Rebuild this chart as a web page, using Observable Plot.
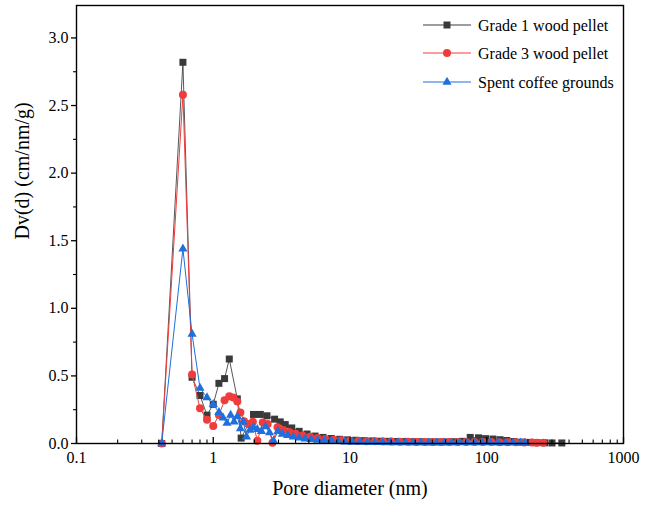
<!DOCTYPE html>
<html><head><meta charset="utf-8">
<script src="https://cdn.jsdelivr.net/npm/d3@7"></script>
<script src="https://cdn.jsdelivr.net/npm/@observablehq/plot@0.6"></script>
<style>
body{margin:0;background:#fff;}
#wrap{position:relative;width:655px;height:510px;font-family:'Liberation Serif',serif;}
#wrap svg, #wrap svg text{font-family:'Liberation Serif',serif !important;}
#legend{position:absolute;left:0;top:0;pointer-events:none;}
</style>
</head><body><div id="wrap"></div>
<script>
// ---- data ----
const seriesNames = ["Grade 1 wood pellet", "Grade 3 wood pellet", "Spent coffee grounds"];
const seriesColors = ["#3a3a3a", "#f03c3c", "#1f6fdc"];
const seriesSymbols = ["square", "circle", "triangle"];

const g1X = [0.42,0.60,0.70,0.80,0.90,1.00,1.10,1.21,1.31,1.50,1.60,1.97,2.21,2.47,2.81,3.09,3.36,3.75,4.25,4.85,5.55,6.35,7.3,8.4,9.6,11.0,12.6,14.5,16.6,19.1,21.9,25.2,28.9,33.2,38.1,43.8,50.3,57.8,66.4,75.7,87.0,98.0,111,125,140,158,180,205,233,265,300,354];
const g1Y = [0,2.82,0.49,0.355,0.21,0.29,0.445,0.48,0.625,0.33,0.04,0.215,0.215,0.205,0.18,0.16,0.14,0.115,0.09,0.07,0.055,0.045,0.037,0.031,0.027,0.024,0.021,0.019,0.017,0.016,0.015,0.014,0.013,0.013,0.012,0.012,0.012,0.013,0.016,0.045,0.042,0.036,0.033,0.028,0.022,0.015,0.01,0.008,0.006,0.005,0.004,0.004];

const g3X = [0.42,0.60,0.70,0.80,0.90,1.00,1.10,1.21,1.31,1.40,1.50,1.58,1.68,1.80,1.95,2.10,2.30,2.50,2.71,2.95,3.25,3.6,4.0,4.5,5.1,5.8,6.6,7.6,8.7,10.0,11.5,13.2,15.2,17.5,20.1,23.1,26.6,30.6,35.2,40.5,46.6,53.6,61.6,70.8,81.4,93.6,108,124,142,163,188,214,232,259];
const g3Y = [0,2.58,0.51,0.26,0.175,0.13,0.21,0.32,0.35,0.34,0.31,0.23,0.165,0.145,0.16,0.02,0.155,0.145,0.005,0.12,0.1,0.085,0.072,0.06,0.05,0.041,0.034,0.028,0.024,0.021,0.019,0.017,0.016,0.015,0.014,0.013,0.013,0.012,0.012,0.012,0.011,0.011,0.011,0.011,0.011,0.011,0.011,0.010,0.010,0.009,0.008,0.007,0.006,0.005];

const scgX = [0.42,0.60,0.70,0.80,0.90,1.00,1.10,1.18,1.26,1.34,1.42,1.50,1.58,1.66,1.75,1.85,1.97,2.10,2.25,2.41,2.58,2.76,2.97,3.2,3.5,3.85,4.25,4.7,5.2,5.8,6.5,7.3,8.2,9.2,10.4,11.8,13.4,15.2,17.3,19.7,22.4,25.5,29.0,33.0,37.6,42.8,48.7,55.4,63.1,71.8,81.7,93.0,106,121,137,156,177,191];
const scgY = [0,1.44,0.81,0.41,0.34,0.29,0.23,0.19,0.15,0.21,0.16,0.20,0.11,0.16,0.05,0.10,0.12,0.105,0.09,0.125,0.08,0.02,0.09,0.07,0.06,0.05,0.042,0.035,0.03,0.025,0.021,0.018,0.015,0.013,0.011,0.01,0.009,0.008,0.008,0.007,0.007,0.007,0.006,0.006,0.006,0.006,0.006,0.006,0.006,0.006,0.006,0.006,0.006,0.005,0.005,0.005,0.005,0.004];

const xTickValues = [0.1, 1, 10, 100, 1000];
const xTickLabels = ["0.1", "1", "10", "100", "1000"];
const yTickValues = [0, 0.5, 1.0, 1.5, 2.0, 2.5, 3.0];
const xTitle = "Pore diameter (nm)";
const yTitle = "Dv(d) (cm/nm/g)";

// ---- build tables ----
const toRows = (xs, ys) => xs.map((x, i) => ({x, y: ys[i]}));
const series = [toRows(g1X, g1Y), toRows(g3X, g3Y), toRows(scgX, scgY)];

const xMinor = [];
for (let d = 0.1; d < 1000; d *= 10) for (let k = 2; k <= 9; k++) xMinor.push(+(d * k).toPrecision(3));
const yMinor = d3.range(0.25, 3.24, 0.5);

const W = 655, H = 510, mL = 76, mR = 32, mT = 5, mB = 67;
const symR = [3.95, 4, 3.4];
const FONT = "'Liberation Serif', serif";

const marks = [];
series.forEach((rows, i) => {
  marks.push(Plot.line(rows, {x: "x", y: "y", stroke: seriesColors[i], strokeWidth: 1, strokeOpacity: i === 0 ? 0.85 : 1}));
  marks.push(Plot.dot(rows, {x: "x", y: "y", symbol: () => seriesSymbols[i], r: symR[i], fill: seriesColors[i], stroke: "none"}));
});

const chart = Plot.plot({
  width: W, height: H,
  marginLeft: mL, marginRight: mR, marginTop: mT, marginBottom: mB,
  style: {fontFamily: FONT, fontSize: "16px", color: "#000", background: "#fff"},
  x: {type: "log", domain: [0.1, 1000]},
  y: {domain: [0, 3.24]},
  marks: [
    ...marks,
    Plot.frame({stroke: "#000", strokeWidth: 1.4}),
    // x axis: inward ticks
    Plot.axisX(xTickValues, {anchor: "bottom", tickSize: -6, strokeWidth: 1.3, tickFormat: () => "", label: null}),
    Plot.axisX(xMinor, {anchor: "bottom", tickSize: -3.5, strokeWidth: 1.1, tickFormat: () => "", label: null}),
    Plot.axisX(xTickValues, {anchor: "bottom", tickSize: 0, tickPadding: 8, fontSize: 16, fontFamily: FONT, tickFormat: (d) => xTickLabels[xTickValues.indexOf(d)], label: null}),
    // y axis: outward ticks
    Plot.axisY(yTickValues, {anchor: "left", tickSize: 5, tickPadding: 3, strokeWidth: 1.3, fontSize: 16, fontFamily: FONT, tickFormat: d3.format(".1f"), label: null}),
    Plot.axisY(yMinor, {anchor: "left", tickSize: 3, strokeWidth: 1.1, tickFormat: () => "", label: null}),
    // titles
    Plot.text([xTitle], {frameAnchor: "bottom", dy: 51, fontSize: 20, fontFamily: FONT, fill: "#000"}),
    Plot.text([yTitle], {frameAnchor: "left", dx: -54, dy: 15, rotate: -90, fontSize: 20, fontFamily: FONT, fill: "#000"})
  ]
});

const wrap = document.getElementById("wrap");
wrap.appendChild(chart);

// ---- legend (inside plot area, top right) ----
const ns = "http://www.w3.org/2000/svg";
const lg = document.createElementNS(ns, "svg");
lg.setAttribute("id", "legend");
lg.setAttribute("width", W); lg.setAttribute("height", H);
const rowsY = [25, 53, 82];
seriesNames.forEach((name, i) => {
  const y = rowsY[i];
  const ln = document.createElementNS(ns, "line");
  ln.setAttribute("x1", 423); ln.setAttribute("x2", 471); ln.setAttribute("y1", y); ln.setAttribute("y2", y);
  ln.setAttribute("stroke", seriesColors[i]); ln.setAttribute("stroke-width", 1);
  lg.appendChild(ln);
  const p = document.createElementNS(ns, "path");
  p.setAttribute("d", d3.symbol(seriesSymbols[i] === "square" ? d3.symbolSquare : seriesSymbols[i] === "circle" ? d3.symbolCircle : d3.symbolTriangle, Math.PI * symR[i] * symR[i])());
  p.setAttribute("transform", `translate(447,${y})`);
  p.setAttribute("fill", seriesColors[i]);
  lg.appendChild(p);
  const t = document.createElementNS(ns, "text");
  t.setAttribute("x", 478); t.setAttribute("y", y); t.setAttribute("dy", "0.35em");
  t.setAttribute("font-size", 16);
  t.setAttribute("fill", "#000");
  t.style.fontFamily = FONT;
  t.textContent = name;
  lg.appendChild(t);
});
wrap.appendChild(lg);
</script>
</body></html>
